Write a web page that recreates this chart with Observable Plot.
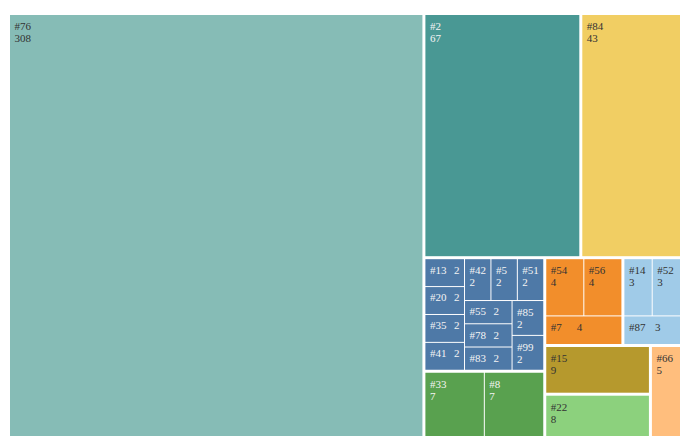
<!DOCTYPE html>
<html><head><meta charset="utf-8">
<script src="https://cdn.jsdelivr.net/npm/d3@7"></script>
<script src="https://cdn.jsdelivr.net/npm/@observablehq/plot@0.6"></script>
<style>body{margin:0;background:#fff} svg text{font-family:"Liberation Serif","Times New Roman",serif}</style></head>
<body><div id="chart"></div>
<script>
const ids = ["#76","#2","#84","#13","#20","#35","#41","#42","#5","#51","#55","#78","#83","#85","#99","#33","#8","#54","#56","#7","#14","#52","#87","#15","#22","#66"];
const values = [308,67,43,2,2,2,2,2,2,2,2,2,2,2,2,7,7,4,4,4,3,3,3,9,8,5];
const groups = ["A","B","C","D","D","D","D","D","D","D","D","D","D","D","D","E","E","F","F","F","G","G","G","H","I","J"];
const groupNames = ["A","B","C","D","E","F","G","H","I","J"];
const groupColors = ["#86bcb6","#499894","#f1ce63","#4e79a7","#59a14f","#f28e2b","#a0cbe8","#b6992d","#8cd17d","#ffbe7d"];
const lightTextGroups = ["B","D","E"];

// nesting of the tiles: split direction followed by children
const layout = ["x", "#76",
  ["y",
    ["x", "#2", "#84"],
    ["x",
      ["y",
        ["x", ["y","#13","#20","#35","#41"],
              ["y", ["x","#42","#5","#51"], ["x", ["y","#55","#78","#83"], ["y","#85","#99"]]]],
        ["x", "#33", "#8"]],
      ["y",
        ["x", ["y", ["x","#54","#56"], "#7"], ["y", ["x","#14","#52"], "#87"]],
        ["x", ["y","#15","#22"], "#66"]]]]];

function build(spec) {
  if (typeof spec === "string") {
    const i = ids.indexOf(spec);
    return {id: spec, value: values[i], group: groups[i]};
  }
  const [dir, ...kids] = spec;
  return {dir, children: kids.map(build)};
}

const W = 670, H = 421;
const root = d3.hierarchy(build(layout)).sum(d => d.value || 0);
d3.treemap()
  .size([W, H])
  .tile((node, x0, y0, x1, y1) => (node.data.dir === "x" ? d3.treemapDice : d3.treemapSlice)(node, x0, y0, x1, y1))
  .paddingInner(node => new Set(node.leaves().map(l => l.data.group)).size === 1 ? 1 : 3)(root);

const rows = root.leaves().map(l => ({id: l.data.id, value: l.data.value, group: l.data.group, x0: l.x0, x1: l.x1, y0: l.y0, y1: l.y1}));
const tall = rows.filter(d => d.y1 - d.y0 >= 32);
const short = rows.filter(d => d.y1 - d.y0 < 32);
const isLight = d => lightTextGroups.includes(d.group);

const font = {fontSize: 11, fontFamily: "Liberation Serif", textAnchor: "start", lineAnchor: "top"};
const chart = Plot.plot({
  width: 684, height: 444,
  marginLeft: 10, marginRight: 4, marginTop: 15, marginBottom: 8,
  style: {fontFamily: "Liberation Serif, serif"},
  x: {domain: [0, W], range: [10, 680], axis: null},
  y: {domain: [0, H], range: [15, 436], axis: null},
  color: {domain: groupNames, range: groupColors},
  marks: [
    Plot.rect(rows, {x1: "x0", x2: "x1", y1: "y0", y2: "y1", fill: "group"}),
    Plot.text(tall.filter(isLight), {x: "x0", y: "y0", text: d => d.id + "\n" + d.value, dx: 4, dy: 6, lineHeight: 1.1, fill: "#f4f4f4", ...font}),
    Plot.text(tall.filter(d => !isLight(d)), {x: "x0", y: "y0", text: d => d.id + "\n" + d.value, dx: 4, dy: 6, lineHeight: 1.1, fill: "#333", ...font}),
    Plot.text(short.filter(isLight), {x: "x0", y: "y0", text: "id", dx: 4, dy: 6, fill: "#f4f4f4", ...font}),
    Plot.text(short.filter(isLight), {x: "x0", y: "y0", text: "value", dx: 28, dy: 6, fill: "#f4f4f4", ...font}),
    Plot.text(short.filter(d => !isLight(d)), {x: "x0", y: "y0", text: "id", dx: 4, dy: 6, fill: "#333", ...font}),
    Plot.text(short.filter(d => !isLight(d)), {x: "x0", y: "y0", text: "value", dx: 30, dy: 6, fill: "#333", ...font})
  ]
});
document.getElementById("chart").appendChild(chart);
</script></body></html>
